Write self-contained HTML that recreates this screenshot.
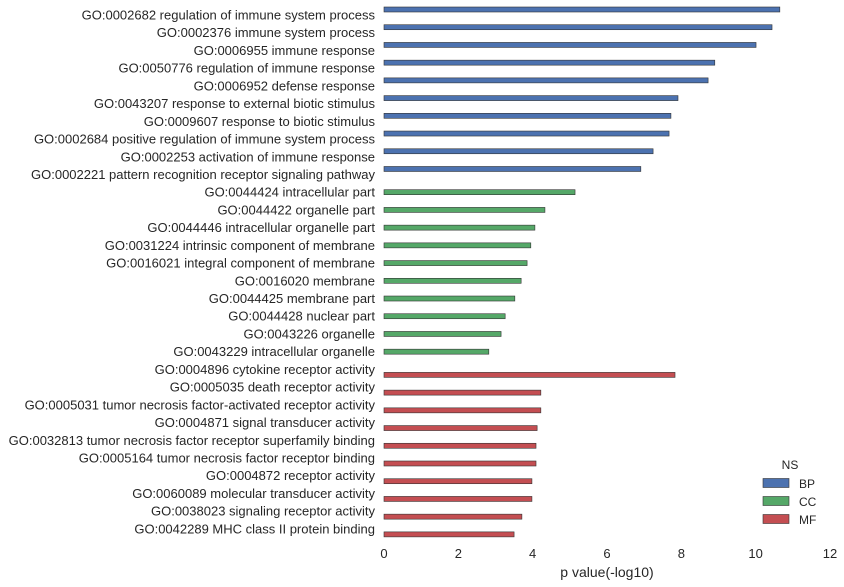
<!DOCTYPE html>
<html><head><meta charset="utf-8"><style>
body{margin:0;background:#fff;}
svg{display:block;font-family:"Liberation Sans",sans-serif;}
</style></head><body>
<svg id="chart" width="844" height="587">
<g id="bars"></g>
<g id="labels"></g>
<g id="xticks"></g>
<text x="607" y="577" font-size="14" fill="#262626" text-anchor="middle">p value(-log10)</text>
<g>
<text x="790" y="469" font-size="12" fill="#262626" text-anchor="middle">NS</text>
<g><rect x="763" y="478.5" width="26" height="9" fill="#4c72b0" stroke="#333" stroke-width="0.6"/><text x="799" y="488" font-size="12" fill="#262626">BP</text></g>
<g><rect x="763" y="496.5" width="26" height="9" fill="#55a868" stroke="#333" stroke-width="0.6"/><text x="799" y="506" font-size="12" fill="#262626">CC</text></g>
<g><rect x="763" y="514.5" width="26" height="9" fill="#c44e52" stroke="#333" stroke-width="0.6"/><text x="799" y="524" font-size="12" fill="#262626">MF</text></g>
</g>
</svg>
<script>
const categories=["GO:0002682 regulation of immune system process","GO:0002376 immune system process","GO:0006955 immune response","GO:0050776 regulation of immune response","GO:0006952 defense response","GO:0043207 response to external biotic stimulus","GO:0009607 response to biotic stimulus","GO:0002684 positive regulation of immune system process","GO:0002253 activation of immune response","GO:0002221 pattern recognition receptor signaling pathway","GO:0044424 intracellular part","GO:0044422 organelle part","GO:0044446 intracellular organelle part","GO:0031224 intrinsic component of membrane","GO:0016021 integral component of membrane","GO:0016020 membrane","GO:0044425 membrane part","GO:0044428 nuclear part","GO:0043226 organelle","GO:0043229 intracellular organelle","GO:0004896 cytokine receptor activity","GO:0005035 death receptor activity","GO:0005031 tumor necrosis factor-activated receptor activity","GO:0004871 signal transducer activity","GO:0032813 tumor necrosis factor receptor superfamily binding","GO:0005164 tumor necrosis factor receptor binding","GO:0004872 receptor activity","GO:0060089 molecular transducer activity","GO:0038023 signaling receptor activity","GO:0042289 MHC class II protein binding"];
const values=[10.65,10.44,10.01,8.9,8.72,7.91,7.72,7.67,7.24,6.91,5.14,4.33,4.06,3.95,3.85,3.69,3.52,3.26,3.15,2.82,7.83,4.22,4.22,4.12,4.09,4.09,3.98,3.98,3.71,3.5];
const groups=["BP","BP","BP","BP","BP","BP","BP","BP","BP","BP","CC","CC","CC","CC","CC","CC","CC","CC","CC","CC","MF","MF","MF","MF","MF","MF","MF","MF","MF","MF"];
const xTicks=[0,2,4,6,8,10,12];
const colors={BP:"#4c72b0",CC:"#55a868",MF:"#c44e52"};
const offsets={BP:-5.5,CC:0,MF:5.5};
const NS="http://www.w3.org/2000/svg";
const x=v=>384+v*(830-384)/12;
const y=i=>15+i*17.72;
const bars=document.getElementById('bars'),labels=document.getElementById('labels'),xt=document.getElementById('xticks');
categories.forEach((c,i)=>{
  const t=document.createElementNS(NS,'text');
  
  
  t.setAttribute('x',375);t.setAttribute('y',y(i)+4.5);t.setAttribute('font-size','13');
  t.setAttribute('fill','#262626');t.setAttribute('text-anchor','end');t.textContent=c;labels.appendChild(t);
  const r=document.createElementNS(NS,'rect');
  
  
  const cy=y(i)+offsets[groups[i]];
  r.setAttribute('x',x(0));r.setAttribute('y',cy-2.5);r.setAttribute('width',x(values[i])-x(0));r.setAttribute('height',5);
  r.setAttribute('fill',colors[groups[i]]);r.setAttribute('stroke','#333');r.setAttribute('stroke-width','0.6');
  bars.appendChild(r);
});
xTicks.forEach(v=>{
  const t=document.createElementNS(NS,'text');
  
  
  t.setAttribute('x',x(v));t.setAttribute('y',558);t.setAttribute('font-size','13');
  t.setAttribute('fill','#262626');t.setAttribute('text-anchor','middle');t.textContent=v;xt.appendChild(t);
});
</script>
</body></html>
